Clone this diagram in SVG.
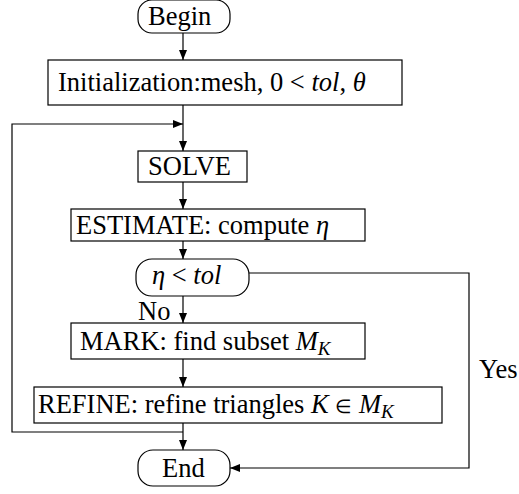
<svg xmlns="http://www.w3.org/2000/svg" width="519" height="494" viewBox="0 0 519 494">
<defs>
<marker id="ah" viewBox="0 0 10 8" refX="10" refY="4" markerWidth="10" markerHeight="8" markerUnits="userSpaceOnUse" orient="auto">
<path d="M0,0 L10,4 L0,8 Z" fill="#000"/>
</marker>
<style>
.box{fill:#fff;stroke:#000;stroke-width:1.2}
.t{font-family:"Liberation Serif","Times New Roman",serif;font-size:26.5px;fill:#000}
.i{font-style:italic}
.s{font-style:italic;font-size:19px}
.c{fill:none;stroke:#000;stroke-width:1.2}
</style>
</defs>
<g id="connectors">
<path class="c" d="M183,33 V60" marker-end="url(#ah)"/>
<path class="c" d="M183,105 V151" marker-end="url(#ah)"/>
<path class="c" d="M183,432 H12 V124 H183" marker-end="url(#ah)"/>
<path class="c" d="M183,182 V209" marker-end="url(#ah)"/>
<path class="c" d="M183,241 V259" marker-end="url(#ah)"/>
<path class="c" d="M183,296 V323" marker-end="url(#ah)"/>
<path class="c" d="M183,359 V387" marker-end="url(#ah)"/>
<path class="c" d="M183,423 V450" marker-end="url(#ah)"/>
<path class="c" d="M249,273 H469 V468 H230" marker-end="url(#ah)"/>
<text class="t" x="138" y="320">No</text>
<text class="t" x="479" y="378">Yes</text>
</g>
<g id="begin">
<rect class="box" x="138" y="0" width="92" height="33" rx="14"/>
<text class="t" x="148" y="25">Begin</text>
</g>
<g id="init">
<rect class="box" x="48" y="60" width="354" height="45"/>
<text class="t" x="58" y="91">Initialization:mesh, 0 &lt; <tspan class="i">tol</tspan>, <tspan class="i">θ</tspan></text>
</g>
<g id="solve">
<rect class="box" x="138" y="151" width="109" height="31"/>
<text class="t" x="148" y="175">SOLVE</text>
</g>
<g id="estimate">
<rect class="box" x="71" y="209" width="294" height="32"/>
<text class="t" x="76" y="234">ESTIMATE: compute <tspan class="i">η</tspan></text>
</g>
<g id="test">
<rect class="box" x="136" y="259" width="113" height="37" rx="16"/>
<text class="t" x="152" y="284"><tspan class="i">η</tspan> &lt; <tspan class="i">tol</tspan></text>
</g>
<g id="mark">
<rect class="box" x="71" y="323" width="294" height="36"/>
<text class="t" x="80" y="350">MARK: find subset <tspan class="i">M</tspan><tspan class="s" dy="5">K</tspan></text>
</g>
<g id="refine">
<rect class="box" x="34" y="387" width="408" height="36"/>
<text class="t" x="38" y="413">REFINE: refine triangles <tspan class="i">K</tspan> <tspan font-size="19">∈</tspan> <tspan class="i">M</tspan><tspan class="s" dy="5">K</tspan></text>
</g>
<g id="end">
<rect class="box" x="138" y="450" width="92" height="36" rx="15"/>
<text class="t" x="162" y="477">End</text>
</g>
</svg>
